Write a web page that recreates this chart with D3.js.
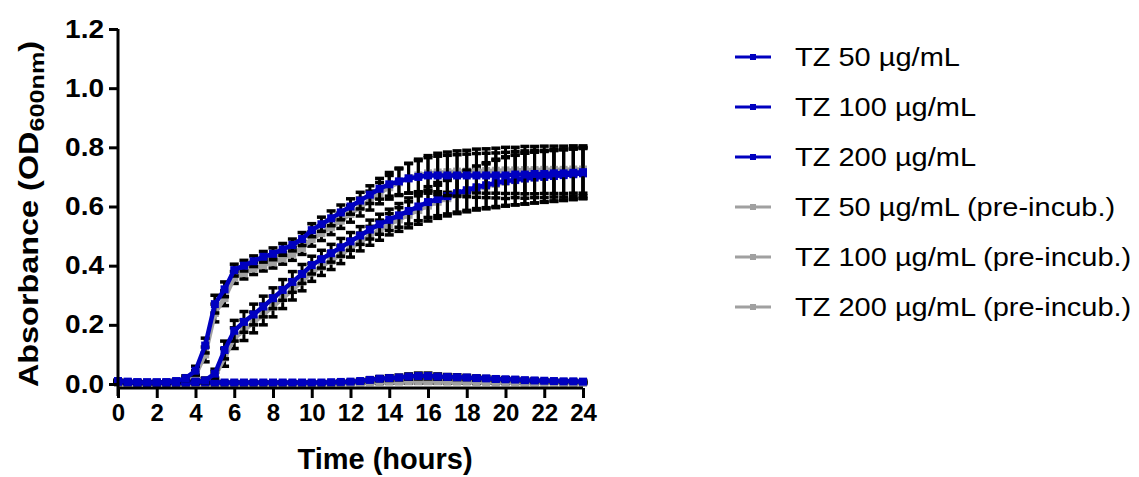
<!DOCTYPE html>
<html>
<head>
<meta charset="utf-8">
<script src="https://cdn.jsdelivr.net/npm/d3@7"></script>
<style>
  html, body { margin: 0; padding: 0; background: #fff; }
  svg { display: block; font-family: "Liberation Sans", Arial, sans-serif; }
</style>
</head>
<body>
<svg id="chart" width="1139" height="477"></svg>
<script>
// Sampling times (hours)
const times = d3.range(0, 24.01, 0.5);

// Mean OD600 per condition, one value per sampling time
const tz50 = [0.010,0.008,0.006,0.005,0.005,0.006,0.010,0.020,0.045,0.130,0.270,0.320,0.385,0.400,0.415,0.430,0.440,0.455,0.470,0.490,0.520,0.540,0.560,0.580,0.600,0.620,0.640,0.660,0.675,0.685,0.695,0.700,0.705,0.705,0.705,0.705,0.705,0.705,0.705,0.705,0.705,0.708,0.708,0.710,0.710,0.712,0.712,0.714,0.716];
const tz100 = [0.008,0.006,0.005,0.005,0.005,0.005,0.005,0.005,0.006,0.012,0.035,0.115,0.180,0.210,0.235,0.262,0.290,0.318,0.345,0.372,0.402,0.422,0.442,0.462,0.482,0.502,0.522,0.540,0.555,0.570,0.585,0.600,0.615,0.625,0.635,0.645,0.655,0.665,0.672,0.680,0.686,0.690,0.695,0.698,0.700,0.703,0.706,0.709,0.712];
const tz200 = [0.008,0.006,0.005,0.005,0.005,0.005,0.005,0.006,0.008,0.006,0.005,0.005,0.005,0.005,0.005,0.005,0.005,0.005,0.005,0.005,0.005,0.005,0.006,0.007,0.008,0.010,0.014,0.018,0.020,0.022,0.025,0.027,0.027,0.025,0.024,0.023,0.022,0.020,0.019,0.017,0.016,0.015,0.013,0.012,0.011,0.010,0.009,0.009,0.008];
const tz50Pre = [0.006,0.005,0.004,0.004,0.004,0.005,0.008,0.015,0.030,0.100,0.240,0.290,0.360,0.375,0.390,0.402,0.412,0.425,0.440,0.460,0.490,0.510,0.530,0.552,0.575,0.598,0.620,0.645,0.665,0.682,0.696,0.705,0.712,0.715,0.716,0.718,0.718,0.720,0.720,0.721,0.722,0.722,0.723,0.723,0.724,0.724,0.724,0.725,0.725];
const tz100Pre = [0.005,0.004,0.004,0.004,0.004,0.004,0.004,0.004,0.005,0.010,0.025,0.090,0.155,0.182,0.208,0.235,0.262,0.290,0.318,0.347,0.377,0.397,0.417,0.437,0.459,0.480,0.501,0.520,0.540,0.556,0.572,0.588,0.603,0.616,0.628,0.640,0.650,0.660,0.668,0.676,0.683,0.689,0.694,0.698,0.702,0.705,0.708,0.711,0.714];
const tz200Pre = [0.004,0.003,0.003,0.003,0.003,0.003,0.003,0.003,0.003,0.003,0.003,0.003,0.003,0.003,0.003,0.003,0.003,0.003,0.003,0.003,0.003,0.003,0.003,0.003,0.004,0.005,0.006,0.007,0.008,0.008,0.009,0.009,0.009,0.009,0.008,0.008,0.008,0.007,0.007,0.006,0.006,0.006,0.005,0.005,0.005,0.005,0.004,0.004,0.004];

// Standard deviations (error bars), same sampling times
const tz50Sd = [0.004,0.003,0.003,0.003,0.003,0.003,0.004,0.008,0.015,0.025,0.030,0.025,0.020,0.018,0.018,0.018,0.020,0.020,0.020,0.022,0.022,0.024,0.025,0.025,0.026,0.028,0.030,0.035,0.040,0.045,0.050,0.055,0.060,0.065,0.068,0.070,0.072,0.074,0.075,0.076,0.078,0.078,0.080,0.080,0.080,0.080,0.080,0.080,0.080];
const tz100Sd = [0.004,0.003,0.003,0.003,0.003,0.003,0.003,0.003,0.004,0.008,0.015,0.030,0.035,0.035,0.035,0.035,0.035,0.035,0.035,0.032,0.030,0.030,0.030,0.030,0.030,0.030,0.032,0.034,0.036,0.040,0.044,0.048,0.052,0.056,0.060,0.064,0.068,0.072,0.076,0.080,0.082,0.084,0.086,0.086,0.086,0.086,0.086,0.086,0.086];
const tz200Sd = [0.004,0.003,0.003,0.003,0.003,0.003,0.003,0.003,0.004,0.004,0.003,0.003,0.003,0.003,0.003,0.003,0.003,0.003,0.003,0.003,0.003,0.003,0.003,0.004,0.004,0.005,0.006,0.007,0.008,0.008,0.009,0.010,0.010,0.009,0.008,0.008,0.007,0.007,0.006,0.006,0.005,0.005,0.005,0.005,0.004,0.004,0.004,0.004,0.004];
const tz50PreSd = [0.004,0.003,0.003,0.003,0.003,0.003,0.004,0.008,0.015,0.025,0.030,0.025,0.020,0.020,0.020,0.020,0.020,0.020,0.022,0.022,0.024,0.025,0.025,0.026,0.028,0.030,0.032,0.036,0.040,0.045,0.050,0.055,0.060,0.065,0.068,0.070,0.072,0.074,0.075,0.076,0.078,0.078,0.080,0.080,0.080,0.080,0.080,0.080,0.080];
const tz100PreSd = [0.004,0.003,0.003,0.003,0.003,0.003,0.003,0.003,0.004,0.008,0.015,0.030,0.035,0.035,0.035,0.035,0.035,0.035,0.034,0.032,0.030,0.030,0.030,0.030,0.030,0.030,0.032,0.034,0.036,0.040,0.044,0.048,0.052,0.056,0.060,0.064,0.068,0.072,0.076,0.080,0.082,0.084,0.086,0.086,0.086,0.086,0.086,0.086,0.086];
const tz200PreSd = [0.003,0.003,0.003,0.003,0.003,0.003,0.003,0.003,0.003,0.003,0.003,0.003,0.003,0.003,0.003,0.003,0.003,0.003,0.003,0.003,0.003,0.003,0.003,0.003,0.003,0.004,0.004,0.005,0.005,0.005,0.006,0.006,0.006,0.006,0.005,0.005,0.005,0.005,0.004,0.004,0.004,0.004,0.004,0.004,0.003,0.003,0.003,0.003,0.003];

// Series labels, legend order
const seriesNames = [
  "TZ 50 µg/mL", "TZ 100 µg/mL", "TZ 200 µg/mL",
  "TZ 50 µg/mL (pre-incub.)", "TZ 100 µg/mL (pre-incub.)", "TZ 200 µg/mL (pre-incub.)"
];
const seriesMeans = [tz50, tz100, tz200, tz50Pre, tz100Pre, tz200Pre];
const seriesSds = [tz50Sd, tz100Sd, tz200Sd, tz50PreSd, tz100PreSd, tz200PreSd];

// Axis ticks
const xTicks = d3.range(0, 25, 2);
const yTicks = [0, 0.2, 0.4, 0.6, 0.8, 1.0, 1.2];

const BLUE = "#0000C0";
const GREY = "#A0A0A0";
const colorOf = i => (i < 3 ? BLUE : GREY);

const svg = d3.select("#chart");

const x = d3.scaleLinear().domain([0, 24]).range([118, 583]);
const y = d3.scaleLinear().domain([0, 1.2]).range([384, 29]);

const series = seriesNames.map((name, i) => ({
  name, i,
  pts: times.map((t, k) => ({ t, v: seriesMeans[i][k], sd: seriesSds[i][k] }))
}));

// Draw order: pre-incubated (grey) underneath, the others (blue) on top
const drawOrder = [5, 4, 3, 2, 1, 0];
const plot = svg.append("g");
const line = d3.line().x(d => x(d.t)).y(d => y(d.v));
const CAP = 4.5, SQ = 8;

drawOrder.forEach(idx => {
  const s = series[idx];
  const g = plot.append("g");
  // error bars
  const eb = g.selectAll("g.eb").data(s.pts).join("g").attr("class", "eb");
  eb.append("line")
    .attr("x1", d => x(d.t)).attr("x2", d => x(d.t))
    .attr("y1", d => y(d.v + d.sd)).attr("y2", d => y(d.v - d.sd))
    .attr("stroke", "#000").attr("stroke-width", 3);
  eb.append("line")
    .attr("x1", d => x(d.t) - CAP).attr("x2", d => x(d.t) + CAP)
    .attr("y1", d => y(d.v + d.sd)).attr("y2", d => y(d.v + d.sd))
    .attr("stroke", "#000").attr("stroke-width", 3.5);
  eb.append("line")
    .attr("x1", d => x(d.t) - CAP).attr("x2", d => x(d.t) + CAP)
    .attr("y1", d => y(d.v - d.sd)).attr("y2", d => y(d.v - d.sd))
    .attr("stroke", "#000").attr("stroke-width", 3.5);
  // connecting line
  g.append("path").datum(s.pts).attr("d", line)
    .attr("fill", "none").attr("stroke", colorOf(idx)).attr("stroke-width", 4.5)
    .attr("stroke-linejoin", "round");
  // square markers
  g.selectAll("rect").data(s.pts).join("rect")
    .attr("x", d => x(d.t) - SQ / 2).attr("y", d => y(d.v) - SQ / 2)
    .attr("width", SQ).attr("height", SQ)
    .attr("fill", colorOf(idx));
});

// Axes
const axisG = svg.append("g");
const yAxis = d3.axisLeft(y).tickValues(yTicks).tickFormat(d3.format(".1f")).tickSize(9).tickPadding(5);
const yg = axisG.append("g").attr("transform", `translate(${x(0)},0)`).call(yAxis);
yg.select(".domain").attr("d", `M0,${y(1.2)}V${y(0) + 12}`).attr("stroke-width", 3);
yg.selectAll(".tick line").attr("stroke-width", 3);
// labels are widened a little; the shift keeps their right edge next to the ticks
yg.selectAll(".tick text")
  .attr("font-size", 25).attr("font-weight", "bold").attr("fill", "#000")
  .attr("font-family", "Liberation Sans, Arial, sans-serif")
  .attr("transform", "translate(1.7,0) scale(1.12,1)");

const xAxisY = y(0) + 4;
const xAxis = d3.axisBottom(x).tickValues(xTicks).tickFormat(d3.format("d")).tickSize(10).tickPadding(6);
const xg = axisG.append("g").attr("transform", `translate(0,${xAxisY})`).call(xAxis);
xg.select(".domain").attr("d", `M${x(0)},0H${x(24)}`).attr("stroke-width", 3);
xg.selectAll(".tick line").attr("stroke-width", 3);
xg.selectAll(".tick text").attr("font-size", 24).attr("font-weight", "bold").attr("fill", "#000")
  .attr("font-family", "Liberation Sans, Arial, sans-serif");

// Axis titles
svg.append("text")
  .attr("x", 385).attr("y", 469)
  .attr("text-anchor", "middle").attr("font-size", 29).attr("font-weight", "bold")
  .text("Time (hours)");

const yt = svg.append("text")
  .attr("transform", `translate(38,214) rotate(-90) scale(1.2,1)`)
  .attr("text-anchor", "middle").attr("font-size", 27).attr("font-weight", "bold");
yt.append("tspan").text("Absorbance (OD");
yt.append("tspan").attr("font-size", 21).attr("dy", 6).text("600nm");
yt.append("tspan").attr("dy", -6).text(")");

// Legend
const legend = svg.append("g");
seriesNames.forEach((name, i) => {
  const ly = 57 + i * 50;
  const lg = legend.append("g").attr("transform", `translate(0,${ly})`);
  lg.append("line").attr("x1", 735).attr("x2", 771).attr("y1", 0).attr("y2", 0)
    .attr("stroke", colorOf(i)).attr("stroke-width", 3);
  lg.append("rect").attr("x", 750).attr("y", -3).attr("width", 6).attr("height", 6)
    .attr("fill", colorOf(i));
  lg.append("text").attr("transform", "translate(795,9) scale(1.16,1)")
    .attr("font-size", 25).attr("fill", "#000")
    .text(name);
});
</script>
</body>
</html>
